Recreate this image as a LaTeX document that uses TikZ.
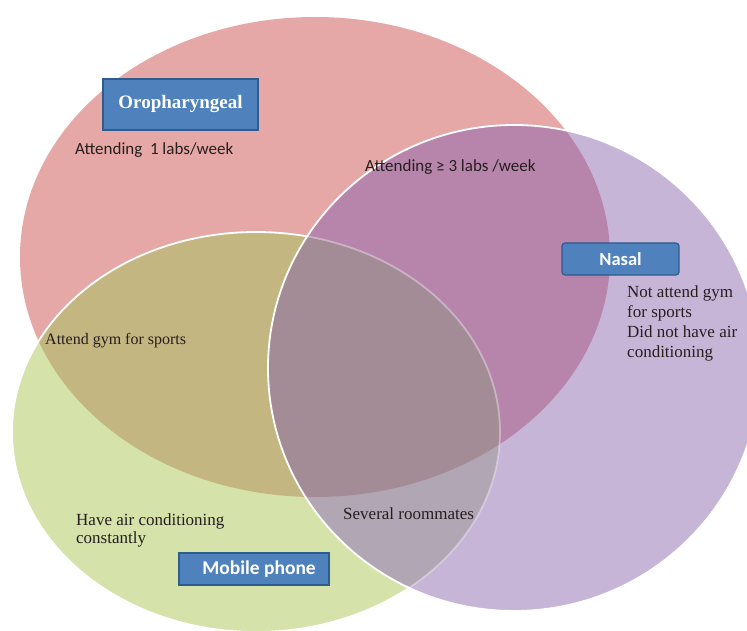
\documentclass[tikz,border=0pt]{standalone}
\usepackage{fontspec}
\setmainfont{Liberation Serif}
\newfontfamily\calibrifont{Carlito}
\definecolor{cRed}{HTML}{E6A8A6}
\definecolor{cGreen}{HTML}{D5E2AA}
\definecolor{cPurple}{HTML}{C7B5D8}
\definecolor{cRP}{HTML}{B785AB}
\definecolor{cRG}{HTML}{C4B680}
\definecolor{cGP}{HTML}{B1A6B4}
\definecolor{cRGP}{HTML}{A38C96}
\definecolor{boxblue}{HTML}{4F81BD}
\definecolor{boxedge}{HTML}{2E5C8E}
\definecolor{txtdark}{HTML}{261E1E}
\newcommand\RedE{(315,257) ellipse [x radius=295pt, y radius=240pt]}
\newcommand\GreenE{(256,432) ellipse [x radius=244pt, y radius=200pt]}
\newcommand\PurE{(514,368) ellipse [x radius=246pt, y radius=243pt]}
\tikzset{
  labelbox/.style={draw=boxedge, line width=1.2pt, fill=boxblue, text=white, inner sep=0pt},
  serifbox/.style={labelbox, font=\fontsize{19}{22}\selectfont\bfseries},
  sansbox/.style={labelbox, font=\calibrifont\fontsize{19.5}{22}\selectfont\bfseries},
  sanslbl/.style={inner sep=0pt, text=txtdark, font=\calibrifont\fontsize{17}{20}\selectfont},
  seriflbl/.style={inner sep=0pt, text=txtdark, font=\fontsize{17}{20}\selectfont, align=left},
  border/.style={draw=white, line width=1.8pt}
}
\begin{document}
\begin{tikzpicture}[x=1pt,y=-1pt]
\useasboundingbox (0,0) rectangle (747,631);
\clip (0,0) rectangle (747,631);
% base fills
\fill[cRed] \RedE;
\fill[cGreen] \GreenE;
\begin{scope}
  \clip \RedE;
  \fill[cRG] \GreenE;
\end{scope}
\path[border] \GreenE;
\fill[cPurple] \PurE;
\begin{scope}
  \clip \RedE;
  \fill[cRP] \PurE;
\end{scope}
\begin{scope}
  \clip \GreenE;
  \fill[cGP] \PurE;
\end{scope}
\begin{scope}
  \clip \RedE;
  \clip \GreenE;
  \fill[cRGP] \PurE;
\end{scope}
\begin{scope}
  \clip \PurE;
  \path[border, draw opacity=0.35] \GreenE;
\end{scope}
\path[border] \PurE;
% label boxes
\node[serifbox, minimum width=155pt, minimum height=51pt] (oro) at (180.5,104.5) {Oropharyngeal};
\node[sansbox, rounded corners=3pt, minimum width=117pt, minimum height=32pt, font=\calibrifont\fontsize{18.5}{21}\selectfont\bfseries] (nasal) at (620.5,259) {Nasal};
\node[sansbox, minimum width=150pt, minimum height=32pt] (mobile) at (254,569) {\hspace{10pt}Mobile phone};
% texts
\node[sanslbl, anchor=base west] (t1) at (75,155) {Attending\ \ 1 labs/week};
\node[sanslbl, anchor=base west] (t2) at (365,172) {Attending ≥ 3 labs /week};
\node[seriflbl, anchor=north west] (t3) at (627,285.3) {Not attend gym\\for sports\\Did not have air\\conditioning};
\node[seriflbl, anchor=base west, font=\fontsize{16}{19}\selectfont] (t4) at (45,344) {Attend gym for sports};
\node[seriflbl, anchor=north west, font=\fontsize{17}{18}\selectfont] (t5) at (76,513.3) {Have air conditioning\\constantly};
\node[seriflbl, anchor=base west] (t6) at (343,519) {Several roommates};
\end{tikzpicture}
\end{document}
